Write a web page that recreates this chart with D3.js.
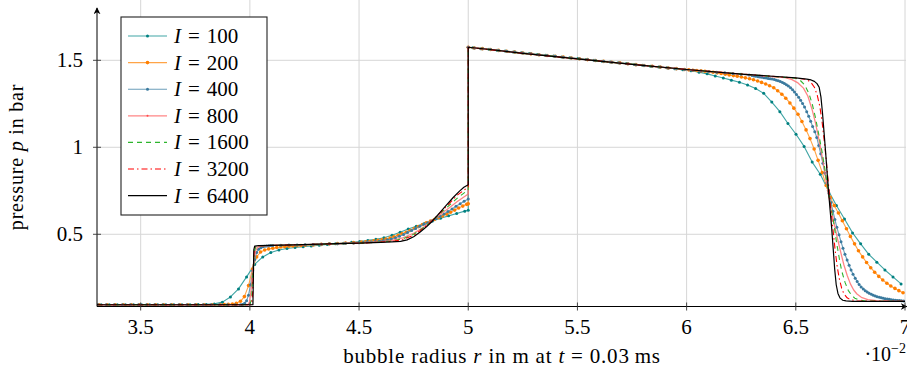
<!DOCTYPE html>
<html><head><meta charset="utf-8">
<script src="https://cdn.jsdelivr.net/npm/d3@7"></script>
<style>
body{margin:0;background:#fff}
svg{display:block}
svg text{font-family:"Liberation Serif","DejaVu Serif",serif;fill:#000}
</style>
</head><body>
<svg id="c" width="907" height="368" font-family="Liberation Serif, DejaVu Serif, serif"></svg>
<script>
// ---------------- DATA ----------------
const xTicks = [3.5, 4, 4.5, 5, 5.5, 6, 6.5, 7];
const xTickLabels = ["3.5", "4", "4.5", "5", "5.5", "6", "6.5", "7"];
const yTicks = [0.5, 1, 1.5];
const yTickLabels = ["0.5", "1", "1.5"];
const seriesNames = ["100", "200", "400", "800", "1600", "3200", "6400"];

const I100 = [
[3.319,0.095],[3.356,0.095],[3.393,0.095],[3.430,0.095],[3.467,0.095],[3.504,0.095],[3.541,0.095],[3.578,0.095],[3.615,0.095],[3.652,0.095],
[3.689,0.095],[3.726,0.095],[3.763,0.096],[3.800,0.097],[3.837,0.100],[3.874,0.110],[3.911,0.140],[3.948,0.186],[3.985,0.255],[4.022,0.327],
[4.059,0.370],[4.096,0.395],[4.133,0.410],[4.170,0.418],[4.207,0.424],[4.244,0.429],[4.281,0.433],[4.318,0.437],[4.355,0.441],[4.392,0.445],
[4.429,0.449],[4.466,0.454],[4.503,0.459],[4.540,0.465],[4.577,0.471],[4.614,0.480],[4.651,0.495],[4.688,0.512],[4.725,0.530],[4.762,0.546],
[4.799,0.562],[4.836,0.577],[4.873,0.592],[4.910,0.606],[4.947,0.620],[4.984,0.633],[5.000,0.638],[5.000,1.575],
[5.021,1.572],[5.058,1.567],[5.095,1.563],[5.132,1.558],[5.169,1.553],[5.206,1.548],[5.243,1.543],[5.280,1.539],[5.317,1.534],[5.354,1.529],
[5.391,1.524],[5.428,1.519],[5.465,1.515],[5.502,1.510],[5.539,1.505],[5.576,1.500],[5.613,1.495],[5.650,1.490],[5.687,1.486],[5.724,1.481],
[5.761,1.476],[5.798,1.471],[5.835,1.466],[5.872,1.462],[5.909,1.457],[5.946,1.452],[5.983,1.445],[6.020,1.440],[6.057,1.432],[6.094,1.422],
[6.131,1.410],[6.168,1.398],[6.205,1.386],[6.242,1.374],[6.279,1.358],[6.316,1.338],[6.353,1.310],[6.390,1.260],[6.427,1.205],[6.464,1.137],
[6.501,1.075],[6.538,1.005],[6.575,0.915],[6.612,0.845],[6.649,0.752],[6.686,0.665],[6.723,0.588],[6.760,0.508],[6.797,0.445],[6.834,0.385],
[6.871,0.340],[6.908,0.295],[6.945,0.255],[6.982,0.215]
];

const I200 = [
[3.309,0.095],[3.346,0.095],[3.383,0.095],[3.420,0.095],[3.457,0.095],[3.494,0.095],[3.531,0.095],[3.568,0.095],[3.605,0.095],[3.642,0.095],
[3.679,0.095],[3.716,0.095],[3.753,0.095],[3.790,0.095],[3.827,0.095],
[3.864,0.095],[3.883,0.096],[3.901,0.097],[3.920,0.099],[3.938,0.104],[3.957,0.115],[3.975,0.142],[3.994,0.205],[4.012,0.300],[4.031,0.370],
[4.049,0.398],[4.068,0.410],[4.086,0.416],[4.105,0.420],[4.123,0.424],[4.142,0.427],[4.160,0.429],[4.179,0.431],[4.197,0.433],[4.216,0.435],
[4.234,0.436],[4.253,0.437],
[4.290,0.439],[4.327,0.442],[4.364,0.445],[4.401,0.447],[4.438,0.450],[4.475,0.452],
[4.512,0.455],[4.531,0.457],[4.549,0.459],[4.568,0.462],[4.586,0.465],[4.605,0.468],[4.623,0.472],[4.642,0.478],[4.660,0.486],[4.679,0.494],
[4.697,0.503],[4.716,0.512],[4.734,0.522],[4.753,0.533],[4.771,0.544],[4.790,0.556],[4.808,0.566],[4.827,0.576],[4.845,0.585],[4.864,0.595],
[4.882,0.605],[4.901,0.616],[4.919,0.627],[4.938,0.639],[4.956,0.651],[4.975,0.662],[4.993,0.672],[5.000,0.675],[5.000,1.575],
[5.028,1.571],[5.065,1.567],[5.102,1.562],[5.139,1.557],[5.176,1.552],[5.213,1.547],[5.250,1.542],[5.287,1.537],[5.324,1.532],[5.361,1.528],
[5.398,1.523],[5.435,1.518],[5.472,1.513],[5.509,1.509],[5.546,1.504],[5.583,1.499],[5.620,1.494],[5.657,1.489],[5.694,1.485],[5.731,1.480],
[5.768,1.475],[5.805,1.470],[5.842,1.466],[5.879,1.461],[5.916,1.456],[5.953,1.452],[5.990,1.447],
[6.010,1.445],[6.029,1.443],[6.047,1.441],[6.066,1.439],[6.084,1.437],[6.103,1.434],[6.121,1.431],[6.140,1.428],[6.158,1.424],[6.177,1.420],
[6.195,1.416],[6.214,1.412],[6.232,1.408],[6.251,1.404],[6.269,1.399],[6.288,1.394],[6.306,1.388],[6.325,1.381],[6.343,1.373],[6.362,1.364],
[6.380,1.354],[6.399,1.342],[6.417,1.325],[6.436,1.305],[6.454,1.282],[6.473,1.255],[6.491,1.225],[6.510,1.190],[6.528,1.148],[6.547,1.100],
[6.565,1.050],[6.584,0.990],[6.602,0.925],[6.621,0.855],[6.639,0.780],[6.658,0.712],[6.676,0.665],[6.695,0.622],[6.713,0.578],[6.732,0.532],
[6.750,0.488],[6.769,0.445],[6.787,0.405],[6.806,0.370],[6.824,0.338],[6.843,0.308],[6.861,0.282],[6.880,0.258],[6.898,0.237],[6.917,0.219],
[6.935,0.203],[6.954,0.189],[6.972,0.176],[6.991,0.164]
];

const I400 = [
[3.305,0.095],[3.342,0.095],[3.379,0.095],[3.416,0.095],[3.453,0.095],[3.490,0.095],[3.527,0.095],[3.564,0.095],[3.601,0.095],[3.638,0.095],
[3.675,0.095],[3.712,0.095],[3.749,0.095],[3.786,0.095],[3.823,0.095],[3.860,0.095],[3.897,0.095],[3.934,0.095],
[3.957,0.095],[3.966,0.097],[3.976,0.103],[3.985,0.118],[3.994,0.150],[4.003,0.210],[4.013,0.290],[4.022,0.355],[4.031,0.395],[4.040,0.414],
[4.050,0.423],[4.059,0.428],[4.068,0.431],[4.077,0.433],[4.087,0.434],[4.096,0.435],[4.105,0.436],
[4.142,0.437],[4.179,0.438],[4.216,0.439],[4.253,0.440],[4.290,0.442],[4.327,0.443],[4.364,0.445],[4.401,0.446],[4.438,0.448],[4.475,0.450],
[4.500,0.451],[4.519,0.453],[4.537,0.455],[4.556,0.457],[4.574,0.459],[4.593,0.461],[4.611,0.464],[4.630,0.468],[4.648,0.473],[4.667,0.480],
[4.685,0.489],[4.704,0.499],[4.722,0.510],[4.741,0.522],[4.759,0.534],[4.778,0.546],[4.796,0.557],[4.815,0.567],[4.833,0.577],[4.852,0.589],
[4.870,0.603],[4.889,0.617],[4.907,0.631],[4.926,0.646],[4.944,0.661],[4.963,0.676],[4.981,0.690],[5.000,0.703],[5.000,1.575],
[5.028,1.571],[5.065,1.567],[5.102,1.562],[5.139,1.557],[5.176,1.552],[5.213,1.547],[5.250,1.542],[5.287,1.537],[5.324,1.532],[5.361,1.528],
[5.398,1.523],[5.435,1.518],[5.472,1.513],[5.509,1.509],[5.546,1.504],[5.583,1.499],[5.620,1.494],[5.657,1.489],[5.694,1.485],[5.731,1.480],
[5.768,1.475],[5.805,1.470],[5.842,1.466],[5.879,1.461],[5.916,1.456],[5.953,1.452],[5.990,1.447],[6.027,1.443],[6.064,1.439],[6.101,1.436],
[6.138,1.432],[6.175,1.428],[6.212,1.424],[6.249,1.420],[6.286,1.415],
[6.300,1.412],[6.309,1.410],[6.318,1.408],[6.328,1.406],[6.337,1.404],[6.346,1.402],[6.355,1.400],[6.365,1.398],[6.374,1.396],[6.383,1.394],
[6.392,1.392],[6.402,1.389],[6.411,1.386],[6.420,1.382],[6.429,1.378],[6.439,1.373],[6.448,1.367],[6.457,1.360],[6.466,1.352],[6.476,1.342],
[6.485,1.331],[6.494,1.318],[6.503,1.304],[6.513,1.288],[6.522,1.271],[6.531,1.252],[6.540,1.232],[6.550,1.205],[6.559,1.178],[6.568,1.150],
[6.577,1.120],[6.587,1.090],[6.596,1.057],[6.605,1.010],[6.614,0.963],[6.624,0.908],[6.633,0.852],[6.642,0.795],[6.651,0.738],[6.661,0.683],
[6.670,0.632],[6.679,0.585],[6.688,0.540],[6.698,0.497],[6.707,0.457],[6.716,0.420],[6.725,0.385],[6.735,0.352],[6.744,0.322],[6.753,0.295],
[6.762,0.270],[6.772,0.248],[6.781,0.228],[6.790,0.211],[6.799,0.197],[6.809,0.186],[6.818,0.176],[6.827,0.168],[6.836,0.161],[6.846,0.155],
[6.855,0.150],[6.864,0.145],[6.873,0.141],[6.883,0.138],[6.892,0.135],[6.901,0.132],[6.910,0.130],[6.920,0.128],[6.929,0.126],[6.938,0.124],
[6.947,0.123],[6.957,0.121],[6.966,0.120],[6.975,0.119],[6.984,0.118],[6.994,0.117]
];

const I800 = [
[3.300,0.095],[3.990,0.095],[3.998,0.110],[4.005,0.170],[4.012,0.280],[4.019,0.360],[4.026,0.405],[4.035,0.425],[4.050,0.432],[4.100,0.436],
[4.200,0.439],[4.300,0.442],[4.400,0.446],[4.500,0.450],[4.600,0.458],[4.650,0.465],[4.700,0.480],[4.750,0.506],[4.800,0.545],[4.833,0.577],
[4.870,0.612],[4.900,0.640],[4.950,0.688],[5.000,0.732],[5.000,1.575],[5.250,1.540],[5.500,1.508],[5.750,1.477],[6.000,1.447],[6.250,1.421],
[6.450,1.400],[6.480,1.390],[6.510,1.370],[6.535,1.340],[6.555,1.295],[6.575,1.215],[6.590,1.140],[6.605,1.050],[6.620,0.950],[6.635,0.845],
[6.647,0.750],[6.660,0.655],[6.675,0.565],[6.690,0.480],[6.705,0.400],[6.720,0.325],[6.735,0.265],[6.750,0.215],[6.765,0.180],[6.780,0.157],
[6.800,0.138],[6.830,0.125],[6.870,0.118],[6.930,0.116],[7.000,0.115]
];

const I1600 = [
[3.300,0.095],[4.000,0.095],[4.008,0.130],[4.014,0.290],[4.020,0.400],[4.028,0.430],[4.050,0.434],[4.200,0.439],[4.400,0.446],[4.500,0.449],
[4.600,0.456],[4.650,0.461],[4.700,0.474],[4.750,0.500],[4.800,0.542],[4.833,0.577],[4.870,0.617],[4.900,0.652],[4.950,0.708],[5.000,0.755],
[5.000,1.575],[5.250,1.540],[5.500,1.508],[5.750,1.477],[6.000,1.447],[6.250,1.421],[6.500,1.397],[6.520,1.385],[6.540,1.360],[6.560,1.310],
[6.575,1.250],[6.590,1.170],[6.605,1.075],[6.620,0.975],[6.635,0.860],[6.647,0.760],[6.660,0.665],[6.672,0.580],[6.687,0.450],[6.700,0.355],
[6.710,0.290],[6.725,0.225],[6.740,0.178],[6.755,0.150],[6.770,0.133],[6.790,0.122],[6.820,0.117],[6.900,0.115],[7.000,0.115]
];

const I3200 = [
[3.300,0.095],[4.008,0.095],[4.013,0.170],[4.017,0.360],[4.022,0.425],[4.035,0.434],[4.200,0.439],[4.400,0.446],[4.500,0.449],[4.600,0.455],
[4.650,0.459],[4.700,0.469],[4.750,0.494],[4.800,0.540],[4.833,0.577],[4.870,0.622],[4.900,0.660],[4.950,0.725],[5.000,0.772],[5.000,1.575],
[5.250,1.540],[5.500,1.508],[5.750,1.477],[6.000,1.447],[6.250,1.421],[6.500,1.398],[6.550,1.390],[6.570,1.372],[6.585,1.345],[6.598,1.300],
[6.610,1.235],[6.620,1.150],[6.630,1.040],[6.640,0.920],[6.650,0.780],[6.660,0.650],[6.670,0.530],[6.680,0.410],[6.690,0.310],[6.700,0.240],
[6.710,0.190],[6.720,0.158],[6.735,0.135],[6.750,0.124],[6.780,0.117],[6.850,0.115],[7.000,0.115]
];

const I6400 = [
[3.300,0.095],[4.014,0.095],[4.016,0.250],[4.018,0.410],[4.022,0.432],[4.040,0.435],[4.200,0.439],[4.400,0.446],[4.500,0.449],[4.600,0.453],
[4.650,0.456],[4.690,0.459],[4.720,0.468],[4.750,0.486],[4.780,0.513],[4.810,0.545],[4.833,0.572],[4.870,0.625],[4.900,0.668],[4.930,0.710],
[4.960,0.748],[4.980,0.770],[5.000,0.785],[5.000,1.575],[5.100,1.562],[5.250,1.540],[5.500,1.508],[5.750,1.477],[6.000,1.447],[6.250,1.421],
[6.500,1.399],[6.550,1.392],[6.570,1.387],[6.585,1.379],[6.597,1.366],[6.607,1.345],[6.615,1.290],[6.622,1.200],[6.629,1.090],[6.636,0.980],
[6.643,0.860],[6.650,0.745],[6.657,0.640],[6.664,0.540],[6.671,0.420],[6.678,0.300],[6.685,0.210],[6.693,0.160],[6.703,0.133],[6.715,0.121],
[6.730,0.117],[6.760,0.115],[7.000,0.115]
];

const seriesData = [I100, I200, I400, I800, I1600, I3200, I6400];

// ---------------- STYLES ----------------
const FONT = "Liberation Serif, DejaVu Serif, serif";
const styles = [
  {color:"#008080", lineColor:"#2a9a9a", w:1.1, op:0.9, mr:1.5, dash:null},
  {color:"#ff7f00", lineColor:"#ff9a33", w:1.1, op:0.9, mr:1.8, dash:null},
  {color:"#3b7a9e", lineColor:"#5b92b3", w:1.1, op:0.9, mr:1.5, dash:null},
  {color:"#ff4a4a", lineColor:"#ff7070", w:1.3, op:0.85, mr:0, legendMr:1.0, dash:null},
  {color:"#2db52d", lineColor:"#2db52d", w:1.1, op:1, mr:0, dash:"5,4"},
  {color:"#ff0000", lineColor:"#ff0000", w:1.1, op:1, mr:0, dash:"6,3,1.5,3"},
  {color:"#000000", lineColor:"#000000", w:1.2, op:1, mr:0, dash:null}
];

// ---------------- DRAW ----------------
const svg = d3.select("#c");
const xMin = 3.3, xMax = 7, yMin = 0.085, yMax = 1.8;
const x = d3.scaleLinear().domain([xMin, xMax]).range([97, 905]);
const y = d3.scaleLinear().domain([yMin, yMax]).range([306.5, 8.1]);
const x0 = x(xMin), yB = y(yMin);

// grid
const grid = svg.append("g").attr("stroke", "#d6d6d6").attr("stroke-width", 1);
grid.selectAll("line.gx").data(xTicks).join("line")
  .attr("x1", d => x(d)).attr("x2", d => x(d)).attr("y1", 0).attr("y2", yB);
grid.selectAll("line.gy").data(yTicks).join("line")
  .attr("x1", x0).attr("x2", 906).attr("y1", d => y(d)).attr("y2", d => y(d));

// clip
svg.append("clipPath").attr("id", "clip").append("rect")
  .attr("x", x0).attr("y", 0).attr("width", 907 - x0).attr("height", yB);

const plot = svg.append("g").attr("clip-path", "url(#clip)");
const line = d3.line().x(d => x(d[0])).y(d => y(d[1]));

seriesData.forEach((data, i) => {
  const s = styles[i];
  const g = plot.append("g");
  g.append("path").datum(data).attr("d", line)
    .attr("fill", "none").attr("stroke", s.lineColor).attr("stroke-width", s.w)
    .attr("stroke-opacity", s.op).attr("stroke-linejoin", "round")
    .attr("stroke-dasharray", s.dash);
  if (s.mr > 0) {
    g.selectAll("circle").data(data).join("circle")
      .attr("cx", d => x(d[0])).attr("cy", d => y(d[1])).attr("r", s.mr)
      .attr("fill", s.color);
  }
});

// axes
const axisCol = "#000";
const defs = svg.append("defs");
defs.append("marker").attr("id", "arr").attr("viewBox", "0 0 10 10")
  .attr("refX", 9).attr("refY", 5).attr("markerWidth", 7).attr("markerHeight", 7)
  .attr("markerUnits", "userSpaceOnUse").attr("orient", "auto")
  .append("path").attr("d", "M0,0 L10,5 L0,10 L3,5 Z").attr("fill", axisCol);

svg.append("line").attr("x1", x0).attr("x2", x0).attr("y1", yB).attr("y2", 8)
  .attr("stroke", axisCol).attr("stroke-width", 1).attr("marker-end", "url(#arr)");
svg.append("line").attr("x1", x0).attr("x2", 907).attr("y1", yB).attr("y2", yB)
  .attr("stroke", axisCol).attr("stroke-width", 1).attr("marker-end", "url(#arr)");

// ticks
svg.append("g").selectAll("line").data(xTicks).join("line")
  .attr("x1", d => x(d)).attr("x2", d => x(d)).attr("y1", yB - 4).attr("y2", yB + 4)
  .attr("stroke", "#333").attr("stroke-width", 0.9);
svg.append("g").selectAll("line").data(yTicks).join("line")
  .attr("x1", x0 - 4).attr("x2", x0 + 4).attr("y1", d => y(d)).attr("y2", d => y(d))
  .attr("stroke", "#333").attr("stroke-width", 0.9);

// tick labels
svg.append("g").selectAll("text").data(xTicks).join("text")
  .attr("font-family", FONT)
  .attr("x", d => x(d)).attr("y", 334).attr("text-anchor", "middle")
  .attr("font-size", 21).text((d, i) => xTickLabels[i]);
svg.append("g").selectAll("text").data(yTicks).join("text")
  .attr("font-family", FONT)
  .attr("x", 83).attr("y", d => y(d) + 7).attr("text-anchor", "end")
  .attr("font-size", 21).text((d, i) => yTickLabels[i]);

// axis labels
const xl = svg.append("text").attr("font-family", FONT).attr("x", 502).attr("y", 363)
  .attr("text-anchor", "middle").attr("font-size", 21).attr("letter-spacing", 0.8);
xl.append("tspan").text("bubble radius ");
xl.append("tspan").attr("font-style", "italic").text("r");
xl.append("tspan").text(" in m at ");
xl.append("tspan").attr("font-style", "italic").text("t");
xl.append("tspan").text(" = 0.03\u2009ms");

const yl = svg.append("text").attr("font-family", FONT).attr("transform", "translate(23,157) rotate(-90)")
  .attr("text-anchor", "middle").attr("font-size", 20).attr("letter-spacing", 0.8);
yl.append("tspan").text("pressure ");
yl.append("tspan").attr("font-style", "italic").text("p");
yl.append("tspan").text(" in bar");

const sc = svg.append("text").attr("font-family", FONT).attr("x", 906).attr("y", 361)
  .attr("text-anchor", "end").attr("font-size", 20);
sc.append("tspan").text("\u00b710");
sc.append("tspan").attr("font-size", 14).attr("dy", -8).text("\u22122");

// legend
const lg = svg.append("g");
lg.append("rect").attr("x", 121).attr("y", 17).attr("width", 146).attr("height", 198)
  .attr("fill", "#fff").attr("stroke", "#222").attr("stroke-width", 1.1);
seriesNames.forEach((nm, i) => {
  const s = styles[i];
  const yy = 36 + i * 26.6;
  lg.append("line").attr("x1", 128).attr("x2", 167).attr("y1", yy).attr("y2", yy)
    .attr("stroke", s.lineColor).attr("stroke-width", s.w).attr("stroke-opacity", s.op)
    .attr("stroke-dasharray", s.dash);
  const mr = s.mr > 0 ? s.mr : (s.legendMr || 0);
  if (mr > 0) lg.append("circle").attr("cx", 147.5).attr("cy", yy).attr("r", mr).attr("fill", s.color);
  const t = lg.append("text").attr("font-family", FONT).attr("x", 174).attr("y", yy + 7).attr("font-size", 21);
  t.append("tspan").attr("font-style", "italic").text("I");
  t.append("tspan").attr("dx", 7).text("=");
  t.append("tspan").attr("dx", 7).text(nm);
});
</script>
</body></html>
